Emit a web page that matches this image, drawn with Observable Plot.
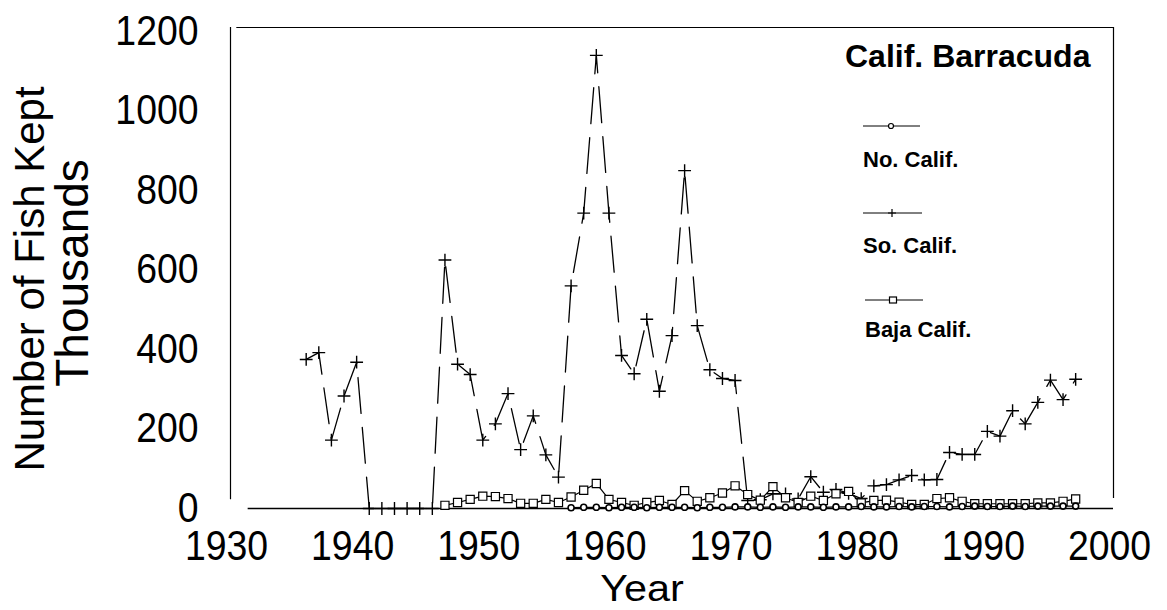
<!DOCTYPE html>
<html>
<head>
<meta charset="utf-8">
<script src="https://cdn.jsdelivr.net/npm/d3@7"></script>
<script src="https://cdn.jsdelivr.net/npm/@observablehq/plot@0.6"></script>
<style>
  body { margin: 0; background: #fff; }
  #wrap { position: relative; width: 1167px; height: 610px; background: #fff; }
  #overlay { position: absolute; left: 0; top: 0; pointer-events: none; }
</style>
</head>
<body>
<div id="wrap"></div>
<script>
// ---------- data ----------
const chartTitle = "Calif. Barracuda";
const seriesNames = ["No. Calif.", "So. Calif.", "Baja Calif."];
const xLabel = "Year";
const yLabelLines = ["Number of Fish Kept", "Thousands"];
const xTicks = [1930, 1940, 1950, 1960, 1970, 1980, 1990, 2000];
const yTicks = [0, 200, 400, 600, 800, 1000, 1200];

// So. Calif. (thousands), 1936-1997
const soStart = 1936;
const soValues = [375, 392, 172, 283, 368, 0, 0, 0, 0, 0, 0,
  625, 363, 337, 172, 213, 289, 148, 233, 135, 79,
  560, 743, 1140, 743, 385, 339, 476, 295, 435, 850,
  460, 349, 327, 322, 20, 22, 37, 37, 24, 80,
  41, 48, 38, 25, 57, 60, 72, 83, 72, 73,
  141, 136, 136, 194, 182, 246, 213, 267, 323, 274, 325];

// Baja Calif. (thousands), 1947-1997
const bajaStart = 1947;
const bajaValues = [8, 15, 23, 31, 30, 25, 13, 13, 23, 15,
  29, 46, 63, 23, 15, 8, 15, 20, 10, 45,
  18, 27, 39, 57, 35, 21, 55, 27, 15, 31,
  20, 37, 43, 14, 20, 21, 16, 10, 10, 25,
  27, 18, 12, 12, 12, 12, 12, 14, 14, 18, 24];

// No. Calif. (thousands), 1957-1997
const noStart = 1957;
const noValues = [2, 3, 3, 2, 3, 3, 2, 3, 3, 3,
  2, 3, 3, 4, 4, 3, 4, 3, 4, 4,
  3, 4, 4, 5, 4, 4, 5, 4, 5, 5,
  4, 5, 6, 5, 5, 6, 5, 6, 6, 6, 6];

const toRows = (start, values) => values.map((v, i) => ({year: start + i, value: v}));
const so = toRows(soStart, soValues);
const baja = toRows(bajaStart, bajaValues);
const no = toRows(noStart, noValues);

// ---------- chart ----------
const W = 1167, H = 610;
const sans = "'Liberation Sans', Arial, Helvetica, sans-serif";

const chart = Plot.plot({
  width: W,
  height: H,
  marginLeft: 230,
  marginRight: 54,
  marginTop: 27,
  marginBottom: 102,
  style: {background: "#fff", color: "#000", fontFamily: sans},
  x: {domain: [1930, 2000], label: null},
  y: {domain: [0, 1210], label: null},
  marks: [
    // frame (as drawn in the original: open corners)
    Plot.ruleY([0], {x1: 1931.4, x2: 2000, stroke: "#000", strokeWidth: 1.4}),
    Plot.ruleX([1930], {y1: 22, y2: 1210, stroke: "#000", strokeWidth: 1.2}),
    Plot.ruleX([2000], {y1: 25, y2: 1210, stroke: "#000", strokeWidth: 1.2}),
    Plot.ruleY([1210], {x1: 1930.5, x2: 2000, stroke: "#000", strokeWidth: 1.2}),
    // So. Calif.
    Plot.line(so, {x: "year", y: "value", stroke: "#000", strokeWidth: 1.3, strokeDasharray: "36,14"}),
    Plot.dot(so, {x: "year", y: "value", symbol: "plus", r: 4.2, stroke: "#000", strokeWidth: 1.4}),
    // Baja Calif.
    Plot.line(baja, {x: "year", y: "value", stroke: "#000", strokeWidth: 1.2}),
    Plot.dot(baja, {x: "year", y: "value", symbol: "square", r: 4.6, fill: "#fff", stroke: "#000", strokeWidth: 1.2}),
    // No. Calif.
    Plot.line(no, {x: "year", y: "value", stroke: "#000", strokeWidth: 1.2}),
    Plot.dot(no, {x: "year", y: "value", symbol: "circle", r: 3, fill: "#fff", stroke: "#000", strokeWidth: 1.6}),
    // axes
    Plot.axisX(xTicks, {tickSize: 0, tickPadding: 21, tickFormat: "d", fontSize: 43, fontFamily: sans, dx: -4, label: null}),
    Plot.axisY(yTicks, {tickSize: 0, tickPadding: 32, tickFormat: "d", fontSize: 42, fontFamily: sans, label: null})
  ]
});

// condense the tick labels horizontally, as in the original's narrow face
function condense(sel, s) {
  chart.querySelectorAll(sel + " text").forEach(t => {
    const tr = t.getAttribute("transform");
    if (tr) {
      t.setAttribute("transform", tr + ` scale(${s},1)`);
    } else {
      const x = t.getAttribute("x") || 0, y = t.getAttribute("y") || 0;
      t.removeAttribute("x"); t.removeAttribute("y");
      t.setAttribute("transform", `translate(${x},${y}) scale(${s},1)`);
    }
  });
}
condense('g[aria-label="x-axis tick label"]', 0.87);
condense('g[aria-label="y-axis tick label"]', 0.89);

const wrap = document.getElementById("wrap");
wrap.appendChild(chart);

// ---------- overlay: titles and legend ----------
const svg = d3.select(wrap).append("svg")
  .attr("id", "overlay")
  .attr("width", W).attr("height", H)
  .attr("viewBox", `0 0 ${W} ${H}`);

// y-axis title (two lines)
svg.append("text")
  .attr("transform", "translate(44,279) rotate(-90)")
  .attr("text-anchor", "middle")
  .attr("font-family", sans).attr("font-size", 42)
  .text(yLabelLines[0]);
svg.append("text")
  .attr("transform", "translate(88,273) rotate(-90)")
  .attr("text-anchor", "middle")
  .attr("font-family", sans).attr("font-size", 46)
  .text(yLabelLines[1]);

// x-axis title
svg.append("text")
  .attr("transform", "translate(642,601) scale(1.12,1)")
  .attr("text-anchor", "middle")
  .attr("font-family", sans).attr("font-size", 37)
  .text(xLabel);

// chart title inside plot
svg.append("text")
  .attr("x", 845).attr("y", 67)
  .attr("font-family", sans).attr("font-weight", "bold").attr("font-size", 32)
  .text(chartTitle);

// legend entries
const legendRows = [
  {name: seriesNames[0], lineY: 126, textY: 167, x0: 863, x1: 920, mx: 891, kind: "circle"},
  {name: seriesNames[1], lineY: 213, textY: 253, x0: 863, x1: 922, mx: 892, kind: "plus"},
  {name: seriesNames[2], lineY: 300, textY: 337, x0: 865, x1: 923, mx: 893, kind: "square"}
];
for (const r of legendRows) {
  svg.append("line")
    .attr("x1", r.x0).attr("x2", r.x1).attr("y1", r.lineY).attr("y2", r.lineY)
    .attr("stroke", "#000").attr("stroke-width", 1);
  if (r.kind === "circle") {
    svg.append("circle").attr("cx", r.mx).attr("cy", r.lineY).attr("r", 2.5)
      .attr("fill", "#fff").attr("stroke", "#000").attr("stroke-width", 1.2);
  } else if (r.kind === "square") {
    svg.append("rect").attr("x", r.mx - 3.5).attr("y", r.lineY - 3).attr("width", 7).attr("height", 6)
      .attr("fill", "#fff").attr("stroke", "#000").attr("stroke-width", 1.2);
  } else {
    svg.append("path").attr("d", `M${r.mx - 4},${r.lineY}H${r.mx + 4}M${r.mx},${r.lineY - 4}V${r.lineY + 4}`)
      .attr("stroke", "#000").attr("stroke-width", 1.2);
  }
  svg.append("text")
    .attr("x", r.x0).attr("y", r.textY)
    .attr("font-family", sans).attr("font-weight", "bold").attr("font-size", 22)
    .text(r.name);
}
</script>
</body>
</html>
